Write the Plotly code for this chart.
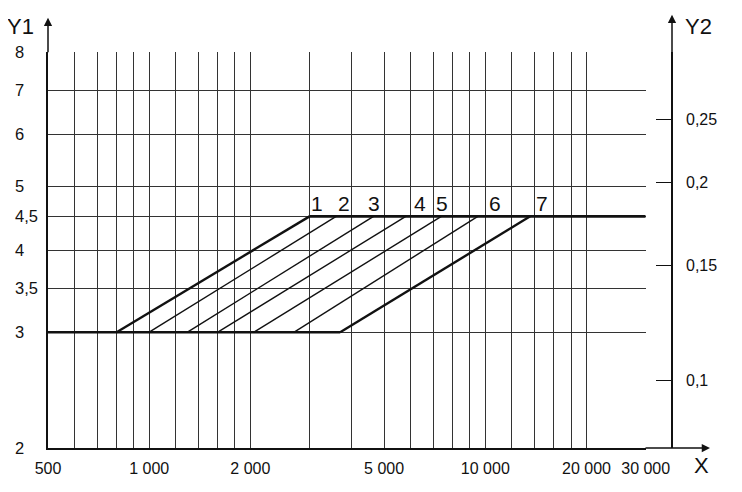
import plotly.graph_objects as go
import math

# ---- data ----
x_grid = [500, 600, 700, 800, 900, 1000, 1200, 1400, 1600, 1800, 2000, 3000, 4000,
          5000, 6000, 7000, 8000, 9000, 10000, 12000, 14000, 16000, 18000, 20000, 30000]
x_labels = {500: "500", 1000: "1 000", 2000: "2 000", 5000: "5 000",
            10000: "10 000", 20000: "20 000", 30000: "30 000"}
y1_grid = [2, 3, 3.5, 4, 4.5, 5, 6, 7, 8]
y1_labels = ["2", "3", "3,5", "4", "4,5", "5", "6", "7", "8"]
y2_ticks = [0.1, 0.15, 0.2, 0.25]
y2_labels = ["0,1", "0,15", "0,2", "0,25"]
y2_ratio = 25.3  # Y1 / Y2

curve_names = ["1", "2", "3", "4", "5", "6", "7"]
x_at_low = [800, 1000, 1300, 1600, 2050, 2700, 3700]      # at Y1 = 3
x_at_high = [3000, 3600, 4650, 5800, 7400, 9500, 13600]   # at Y1 = 4,5
label_x = [3150, 3800, 4670, 6400, 7425, 10700, 14700]
y_low = 3
y_high = 4.5
x_min, x_max = 500, 30000
y_min, y_max = 2, 8

# ---- layout geometry (page pixels; the page body has an 8 px offset) ----
OFF = 8
W, H = 742, 492
plot_left, plot_right_30k, plot_top, plot_bottom = 48, 645.7, 52.3, 448
paper_right = 720
ml = plot_left - OFF
mt = plot_top - OFF
mb = H - (plot_bottom - OFF)
mr = W - (paper_right - OFF)
pw = W - ml - mr
ph = H - mt - mb


def px_x(px):
    return (px - OFF - ml) / pw


def px_y(py):
    return (H - mb - (py - OFF)) / ph


x_dom_end = px_x(plot_right_30k)
y2_pos = px_x(672)

FONT = "Liberation Sans, Arial, sans-serif"
INK = "#111111"
GRID = "#333333"

fig = go.Figure()

# thick boundary lines
fig.add_trace(go.Scatter(x=[x_min, x_at_low[-1]], y=[y_low, y_low], mode="lines",
                         line=dict(color=INK, width=2.6), hoverinfo="skip", showlegend=False))
fig.add_trace(go.Scatter(x=[x_at_high[0], x_max], y=[y_high, y_high], mode="lines",
                         line=dict(color=INK, width=2.6), hoverinfo="skip", showlegend=False))

for i, name in enumerate(curve_names):
    thick = i in (0, len(curve_names) - 1)
    fig.add_trace(go.Scatter(x=[x_at_low[i], x_at_high[i]], y=[y_low, y_high], mode="lines",
                             line=dict(color=INK, width=2.4 if thick else 1.4),
                             hoverinfo="skip", showlegend=False, name=name))

# invisible trace to activate the Y2 axis
fig.add_trace(go.Scatter(x=[x_min] * len(y2_ticks), y=y2_ticks, yaxis="y2", mode="markers",
                         marker=dict(opacity=0), hoverinfo="skip", showlegend=False))

annotations = []
# curve labels
for name, lx in zip(curve_names, label_x):
    annotations.append(dict(x=math.log10(lx), y=math.log10(y_high), xref="x", yref="y",
                            text=name, showarrow=False, xanchor="center", yanchor="middle",
                            yshift=13, font=dict(family=FONT, size=21, color=INK)))
# Y1 tick labels (left aligned)
for v, t in zip(y1_grid, y1_labels):
    annotations.append(dict(x=0, y=math.log10(v), xref="paper", yref="y", text=t,
                            showarrow=False, xanchor="left", yanchor="middle", xshift=-35,
                            font=dict(family=FONT, size=16.5, color=INK)))
# axis titles
annotations.append(dict(x=px_x(21), y=px_y(27), xref="paper", yref="paper", text="Y1",
                        showarrow=False, xanchor="center", yanchor="middle",
                        font=dict(family=FONT, size=22, color=INK)))
annotations.append(dict(x=px_x(698), y=px_y(27), xref="paper", yref="paper",
                        text="Y2", showarrow=False, xanchor="center", yanchor="middle",
                        font=dict(family=FONT, size=22, color=INK)))
annotations.append(dict(x=px_x(701), y=px_y(465), xref="paper", yref="paper",
                        text="X", showarrow=False, xanchor="center", yanchor="middle",
                        font=dict(family=FONT, size=22, color=INK)))
# arrows
annotations.append(dict(x=0, y=px_y(18), xref="paper", yref="paper", text="",
                        showarrow=True, ax=0, ay=36, arrowhead=2, arrowsize=1.1,
                        arrowwidth=1.5, arrowcolor=INK))
annotations.append(dict(x=y2_pos, y=px_y(15), xref="paper", yref="paper", text="",
                        showarrow=True, ax=0, ay=39, arrowhead=2, arrowsize=1.1,
                        arrowwidth=1.5, arrowcolor=INK))
annotations.append(dict(x=px_x(710), y=0, xref="paper", yref="paper", text="",
                        showarrow=True, ax=-66, ay=0, arrowhead=2, arrowsize=1.1,
                        arrowwidth=1.5, arrowcolor=INK))

fig.update_layout(
    width=W, height=H,
    margin=dict(l=ml, r=mr, t=mt, b=mb, pad=0, autoexpand=False),
    paper_bgcolor="white", plot_bgcolor="white",
    font=dict(family=FONT, size=16, color=INK),
    showlegend=False,
    annotations=annotations,
    xaxis=dict(type="log", domain=[0, x_dom_end], automargin=False,
               range=[math.log10(x_min), math.log10(x_max)],
               tickvals=x_grid, ticktext=[x_labels.get(v, "") for v in x_grid],
               ticks="", showgrid=True, gridcolor=GRID, gridwidth=1,
               showline=True, linecolor=INK, linewidth=1.6, zeroline=False,
               ticklabelstandoff=5, tickfont=dict(family=FONT, size=16, color=INK)),
    yaxis=dict(type="log", range=[math.log10(y_min), math.log10(y_max)], automargin=False,
               tickvals=y1_grid, showticklabels=False, ticks="",
               showgrid=True, gridcolor=GRID, gridwidth=1,
               showline=True, linecolor=INK, linewidth=1.6, zeroline=False),
    yaxis2=dict(type="log", overlaying="y", anchor="free", position=y2_pos, side="right",
                automargin=False,
                range=[math.log10(y_min / y2_ratio), math.log10(y_max / y2_ratio)],
                tickvals=y2_ticks, ticktext=y2_labels, ticks="inside", ticklen=15,
                tickwidth=1.4, tickcolor=INK, showgrid=False, zeroline=False,
                showline=True, linecolor=INK, linewidth=1.6,
                ticklabelstandoff=10, tickfont=dict(family=FONT, size=16, color=INK)),
)

fig.write_html("out.html")
